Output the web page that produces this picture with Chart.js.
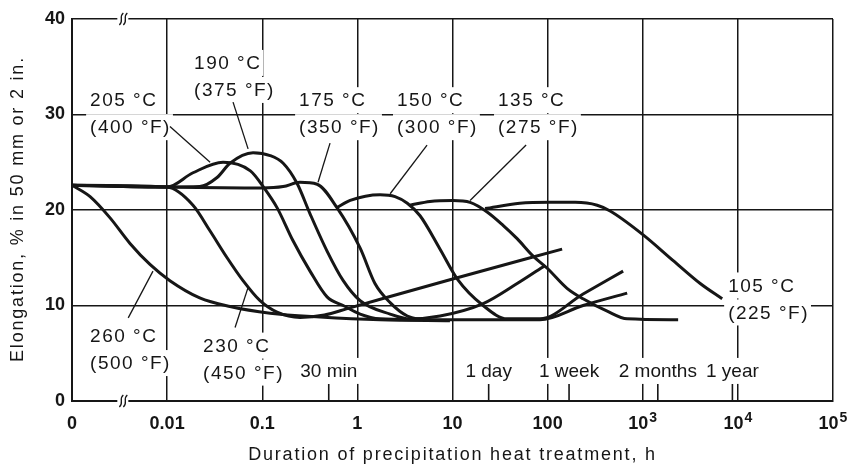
<!DOCTYPE html>
<html>
<head>
<meta charset="utf-8">
<script src="https://cdn.jsdelivr.net/npm/chart.js@4.4.1/dist/chart.umd.min.js"></script>
<style>
  html, body { margin: 0; padding: 0; background: #fff; }
</style>
</head>
<body>
<canvas id="chart1" width="850" height="464"></canvas>
<script>
// x axis is duration in hours on a log scale; the "0" tick sits at 0.001 h
var xTicks = [0.001, 0.01, 0.1, 1, 10, 100, 1000, 10000, 100000];
var xTickLabels = ['0', '0.01', '0.1', '1', '10', '100', '10^3', '10^4', '10^5'];
var yTicks = [0, 10, 20, 30, 40];

// calendar marks along the bottom
var timeMarks = [0.5, 24, 168, 1440, 8760];
var timeLabels = ['30 min', '1 day', '1 week', '2 months', '1 year'];

// ageing curves: hours / elongation %
var h260 = [0.001, 0.00155, 0.0025, 0.00407, 0.0066, 0.0107, 0.022, 0.0458, 0.121, 0.405, 1.73, 9.4];
var e260 = [22.6, 21.4, 19.2, 16.5, 14.3, 12.6, 10.8, 9.9, 9.2, 8.8, 8.5, 8.4];

var h230 = [0.001, 0.01, 0.0187, 0.0283, 0.0427, 0.0628, 0.0948, 0.143, 0.25, 0.45, 0.8, 9.4, 142];
var e230 = [22.6, 22.4, 20.5, 17.8, 15.0, 12.6, 10.5, 9.3, 8.75, 9.0, 9.7, 12.7, 15.9];

var h205 = [0.001, 0.01, 0.0187, 0.0387, 0.075, 0.104, 0.143, 0.21, 0.318, 0.48, 0.71, 1.07, 1.73, 4.6];
var e205 = [22.6, 22.4, 23.9, 25.0, 24.1, 22.35, 20.25, 16.8, 13.6, 10.9, 10.0, 9.1, 8.6, 8.5];

var h190 = [0.001, 0.01, 0.022, 0.0335, 0.0458, 0.08, 0.121, 0.166, 0.232, 0.318, 0.48, 0.71, 1.07, 2.21, 3.58, 7.4, 21, 47.8, 94];
var e190 = [22.6, 22.4, 22.45, 23.4, 24.9, 26.0, 25.7, 24.9, 22.8, 19.6, 15.7, 12.6, 10.5, 9.1, 8.6, 8.9, 10.2, 12.3, 14.2];

var h175 = [0.001, 0.01, 0.1, 0.166, 0.249, 0.377, 0.61, 1.07, 1.53, 2.21, 3.35, 5.8, 83, 236, 686];
var e175 = [22.6, 22.4, 22.3, 22.45, 22.9, 22.7, 20.25, 16.0, 12.3, 10.3, 8.9, 8.5, 8.5, 10.0, 11.3];

var h150 = [0.61, 0.84, 1.73, 2.49, 3.35, 4.56, 7.4, 11.2, 21, 37.5, 83, 236, 622];
var e150 = [20.25, 21.0, 21.6, 21.4, 20.7, 19.4, 15.9, 12.8, 10.0, 8.6, 8.6, 11.2, 13.6];

var h135 = [3.58, 5.8, 10.1, 15.3, 23.1, 34, 47.8, 70, 99, 160, 236, 423, 686, 2355];
var e135 = [20.5, 20.9, 21.0, 20.8, 19.8, 18.4, 17.0, 15.2, 13.9, 11.8, 10.7, 9.4, 8.6, 8.5];

var h105 = [22, 51, 106, 195, 332, 454, 1010, 2090, 4020, 6840];
var e105 = [20.15, 20.7, 20.8, 20.8, 20.5, 19.9, 17.4, 14.7, 12.3, 10.7];

var curves = [[h260, e260], [h230, e230], [h205, e205], [h190, e190], [h175, e175],
              [h150, e150], [h135, e135], [h105, e105]];

// temperature callouts, placed in chart units (hours, %), with leader lines
var notes = [
  { text: ['260 °C', '(500 °F)'], at: [0.00155, 6.8], lead: [[0.0039, 8.7], [0.0071, 13.6]] },
  { text: ['230 °C', '(450 °F)'], at: [0.0239, 5.8], lead: [[0.0518, 7.7], [0.071, 11.9]] },
  { text: ['205 °C', '(400 °F)'], at: [0.00155, 31.5], lead: [[0.0107, 28.75], [0.0283, 25.0]] },
  { text: ['190 °C', '(375 °F)'], at: [0.0192, 35.4], lead: [[0.0493, 31.3], [0.071, 26.4]] },
  { text: ['175 °C', '(350 °F)'], at: [0.244, 31.5], lead: [[0.516, 27.0], [0.386, 22.9]] },
  { text: ['150 °C', '(300 °F)'], at: [2.61, 31.5], lead: [[5.4, 26.8], [2.21, 21.7]] },
  { text: ['135 °C', '(275 °F)'], at: [30.1, 31.5], lead: [[59.4, 26.8], [15.3, 21.0]] },
  { text: ['105 °C', '(225 °F)'], at: [7900, 12.1] }
];
var timeLabelAt = 3.15;
var breakAt = 0.0033;

var ink = '#161616';
var textFont = '19px "Liberation Sans", Arial, sans-serif';
var tickFont = { family: '"Liberation Sans", Arial, sans-serif', size: 18, weight: 'bold' };

function drawBoxedText(ctx, items) {
  items.forEach(function (it) {
    ctx.letterSpacing = it.spacing;
    it.w = ctx.measureText(it.s).width;
    it.left = it.align === 'center' ? it.x - it.w / 2 : it.x;
  });
  ctx.fillStyle = '#fff';
  items.forEach(function (it) {
    ctx.fillRect(it.left - 4, it.y - 13, it.w + 6, 26);
  });
  ctx.fillStyle = ink;
  items.forEach(function (it) {
    ctx.letterSpacing = it.spacing;
    ctx.fillText(it.s, it.left, it.y + 1);
  });
}

var paper = {
  id: 'paper',
  beforeDraw: function (chart) {
    var ctx = chart.ctx;
    ctx.save();
    ctx.fillStyle = '#fff';
    ctx.fillRect(0, 0, chart.width, chart.height);
    ctx.restore();
  },
  beforeDatasetsDraw: function (chart) {
    var ctx = chart.ctx, xs = chart.scales.x, ys = chart.scales.y, area = chart.chartArea;
    ctx.save();
    ctx.font = textFont;
    ctx.textBaseline = 'middle';
    ctx.textAlign = 'left';

    var items = [];
    notes.forEach(function (n) {
      var x0 = xs.getPixelForValue(n.at[0]), y0 = ys.getPixelForValue(n.at[1]);
      n.text.forEach(function (s, i) {
        items.push({ s: s, x: x0, y: y0 + i * 27, align: 'left', spacing: '1.5px' });
      });
    });
    timeMarks.forEach(function (t, i) {
      items.push({ s: timeLabels[i], x: xs.getPixelForValue(t), y: ys.getPixelForValue(timeLabelAt), align: 'center', spacing: '0px' });
    });
    drawBoxedText(ctx, items);

    // leader lines
    ctx.strokeStyle = ink;
    ctx.lineWidth = 1.3;
    notes.forEach(function (n) {
      if (!n.lead) return;
      ctx.beginPath();
      ctx.moveTo(xs.getPixelForValue(n.lead[0][0]), ys.getPixelForValue(n.lead[0][1]));
      ctx.lineTo(xs.getPixelForValue(n.lead[1][0]), ys.getPixelForValue(n.lead[1][1]));
      ctx.stroke();
    });

    // short calendar ticks
    ctx.lineWidth = 1.6;
    timeMarks.forEach(function (t) {
      var x = xs.getPixelForValue(t);
      ctx.beginPath();
      ctx.moveTo(x, area.bottom);
      ctx.lineTo(x, area.bottom - 17);
      ctx.stroke();
    });
    ctx.restore();
  },
  afterDraw: function (chart) {
    var ctx = chart.ctx, xs = chart.scales.x, area = chart.chartArea;
    ctx.save();
    // axis break marks
    var bx = xs.getPixelForValue(breakAt);
    [area.top, area.bottom].forEach(function (y) {
      ctx.fillStyle = '#fff';
      ctx.fillRect(bx - 4, y - 2, 11, 4);
      ctx.strokeStyle = ink;
      ctx.lineWidth = 1.3;
      [0, 4].forEach(function (k) {
        ctx.beginPath();
        ctx.moveTo(bx + k - 2, y + 6);
        ctx.bezierCurveTo(bx + k + 3, y + 2, bx + k - 3, y - 2, bx + k + 2, y - 6);
        ctx.stroke();
      });
    });

    // x tick labels, with real raised exponents
    ctx.fillStyle = ink;
    ctx.textBaseline = 'alphabetic';
    ctx.textAlign = 'left';
    var baseFont = 'bold 18px "Liberation Sans", Arial, sans-serif';
    var supFont = 'bold 14px "Liberation Sans", Arial, sans-serif';
    xTicks.forEach(function (v, i) {
      var parts = xTickLabels[i].split('^');
      ctx.font = baseFont;
      var wb = ctx.measureText(parts[0]).width;
      var ws = 0;
      if (parts[1]) { ctx.font = supFont; ws = ctx.measureText(parts[1]).width + 1; }
      var x = xs.getPixelForValue(v) - (wb + ws) / 2;
      var base = area.bottom + 28;
      ctx.font = baseFont;
      ctx.fillText(parts[0], x, base);
      if (parts[1]) {
        ctx.font = supFont;
        ctx.fillText(parts[1], x + wb + 1, base - 7);
      }
    });

    // axis titles
    ctx.font = '18px "Liberation Sans", Arial, sans-serif';
    ctx.letterSpacing = '1.8px';
    ctx.textBaseline = 'middle';
    ctx.textAlign = 'center';
    ctx.fillText('Duration of precipitation heat treatment, h', (area.left + area.right) / 2, 455);
    ctx.translate(18, 209);
    ctx.rotate(-Math.PI / 2);
    ctx.fillText('Elongation, % in 50 mm or 2 in.', 0, 0);
    ctx.restore();
  }
};

var ctx = document.getElementById('chart1').getContext('2d');
var chart = new Chart(ctx, {
  type: 'line',
  data: {
    datasets: curves.map(function (c) {
      return {
        data: c[0].map(function (h, i) { return { x: h, y: c[1][i] }; }),
        borderColor: ink,
        borderWidth: 3,
        pointRadius: 0,
        fill: false,
        cubicInterpolationMode: 'monotone'
      };
    })
  },
  options: {
    responsive: false,
    animation: false,
    devicePixelRatio: 1,
    layout: { padding: { left: 0, right: 17, top: 19, bottom: 0 } },
    plugins: { legend: { display: false }, tooltip: { enabled: false } },
    scales: {
      x: {
        type: 'logarithmic',
        min: 0.001,
        max: 100000,
        afterBuildTicks: function (axis) {
          axis.ticks = xTicks.map(function (v) { return { value: v }; });
        },
        afterFit: function (scale) {
          scale.height = 63;
          scale.paddingLeft = 0;
          scale.paddingRight = 0;
        },
        ticks: { display: false, autoSkip: false, maxRotation: 0 },
        grid: { color: ink, lineWidth: 1.5, drawTicks: false },
        border: { display: true, color: ink, width: 2 }
      },
      y: {
        min: 0,
        max: 40,
        afterBuildTicks: function (axis) {
          axis.ticks = yTicks.map(function (v) { return { value: v }; });
        },
        afterFit: function (scale) {
          scale.width = 72;
          scale.paddingTop = 0;
          scale.paddingBottom = 0;
        },
        ticks: { padding: 7, color: ink, font: tickFont },
        grid: { color: ink, lineWidth: 1.5, drawTicks: false },
        border: { display: true, color: ink, width: 2 }
      }
    }
  },
  plugins: [paper]
});
</script>
</body>
</html>
